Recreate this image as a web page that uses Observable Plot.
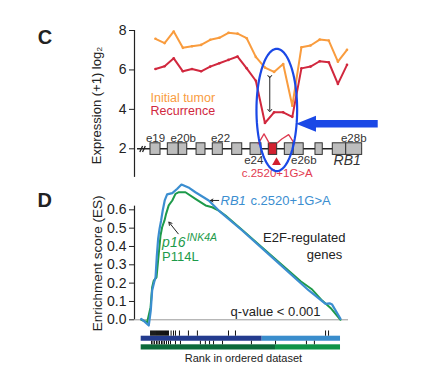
<!DOCTYPE html>
<html><head><meta charset="utf-8">
<script src="https://cdn.jsdelivr.net/npm/d3@7"></script>
<script src="https://cdn.jsdelivr.net/npm/@observablehq/plot@0.6"></script>
<style>
html,body{margin:0;padding:0;background:#fff;}
#fig{position:relative;width:442px;height:379px;overflow:hidden;}
#fig svg{position:absolute;left:0;}
</style></head><body><div id="fig"></div>
<script>
const FONT = '"Liberation Sans", Arial, Helvetica, sans-serif';

// ---------- Panel C data ----------
const probeIndex   = [0,1,2,3,4,5,6,7,8,9,10,11,12,13,14,15,16,17,18,19,20,21];
const initialTumor = [7.58,7.36,7.95,7.12,7.20,7.27,7.53,7.63,7.88,7.84,7.61,6.66,6.12,5.90,6.30,4.18,7.15,7.24,7.54,7.49,6.42,7.02];
const recurrence   = [6.05,6.19,6.59,5.93,6.05,5.93,6.17,6.34,6.51,6.68,6.08,5.45,3.31,3.85,3.85,3.62,6.08,6.17,6.44,6.39,5.29,6.26];
const exonStart  = [-0.55,1.35,2.55,4.50,6.28,8.41,10.42,12.42,14.18,15.15,17.54,19.44,20.91];
const exonEnd    = [ 0.55,2.55,3.48,5.48,7.38,9.51,11.62,13.34,15.15,16.25,18.34,20.91,22.66];
const exonMutant = [false,false,false,false,false,false,false,true,false,false,false,false,false];
const exonLabels    = ["e19","e20b","e22","e28b","e24","e26b"];
const exonLabelPos  = [0,3.04,7.13,21.74,10.78,16.26];
const exonLabelY    = [2.51,2.51,2.51,2.51,1.41,1.41];
const mutationLabel = "c.2520+1G>A";
const mutationPos   = 13.27;
const seriesNames   = ["Initial tumor","Recurrence"];

// ---------- Panel D data ----------
const rbRank  = [0,0.017,0.038,0.048,0.055,0.065,0.072,0.078,0.085,0.092,0.100,0.108,0.118,0.130,0.156,0.181,0.202,0.237,0.272,0.339,0.389,0.507,0.674,0.841,0.925,0.945,0.958,1.0];
const rbES    = [0.005,-0.01,-0.031,0.05,0.16,0.205,0.232,0.342,0.442,0.496,0.542,0.596,0.651,0.684,0.691,0.715,0.738,0.722,0.696,0.651,0.596,0.487,0.324,0.160,0.087,0.09,0.083,0.005];
const p16Rank = [0,0.030,0.047,0.055,0.063,0.077,0.088,0.097,0.105,0.117,0.125,0.138,0.156,0.172,0.189,0.222,0.272,0.323,0.356,0.389,0.423,0.507,0.674,0.800,0.858,0.908,0.950,1.0];
const p16ES   = [0,-0.013,0.069,0.178,0.214,0.232,0.36,0.46,0.505,0.542,0.578,0.624,0.651,0.687,0.696,0.696,0.66,0.624,0.614,0.596,0.569,0.49,0.33,0.21,0.165,0.105,0.065,0.0];
const rbHits  = [0.047,0.052,0.057,0.062,0.067,0.072,0.077,0.082,0.087,0.092,0.097,0.102,0.107,0.112,0.117,0.122,0.127,0.132,0.137,0.150,0.162,0.172,0.192,0.237,0.282,0.438,0.473,0.925,0.940];
const p16Hits = [0.052,0.059,0.067,0.077,0.084,0.092,0.102,0.109,0.117,0.127,0.137,0.147,0.172,0.197,0.297,0.322,0.343,0.363,0.408,0.553,0.674,0.829,0.869];
const rbSplit  = 0.607;
const p16Split = 0.674;
const yTicksD  = [0,0.1,0.2,0.3,0.4,0.5,0.6];

// ---------- colours ----------
const ORANGE = "#f99c3e", RED = "#d1283e", BLUE = "#1a48e6";
const CBLUE = "#3b8ed0", CGREEN = "#1d9a4a";

const fig = document.getElementById("fig");

// ---------- Panel C ----------
const tumorPts = probeIndex.map((p,i)=>({x:p, y:initialTumor[i]}));
const recPts   = probeIndex.map((p,i)=>({x:p, y:recurrence[i]}));
const exons = exonStart.map((s,i)=>({x1:s, x2:exonEnd[i], y1:1.69, y2:2.28, mut:exonMutant[i]}));
const gLabels = exonLabels.map((t,i)=>({t, x:exonLabelPos[i], y:exonLabelY[i]}));
// ellipse annotation shape
const ell = d3.range(0,361,4).map(a=>({x:13.30+2.23*Math.cos(a*Math.PI/180), y:3.97+3.10*Math.sin(a*Math.PI/180)}));
const bigArrow = [
  {x:15.46,y1:3.243,y2:3.243},
  {x:17.65,y1:3.243-0.406,y2:3.243+0.406},
  {x:17.65,y1:3.243-0.193,y2:3.243+0.193},
  {x:24.42,y1:3.243-0.193,y2:3.243+0.193}
];
const splice = [
  {g:1,x:11.26,y:2.25},{g:1,x:11.90,y:2.76},{g:1,x:12.45,y:2.30},
  {g:2,x:13.34,y:2.30},{g:2,x:13.85,y:2.50},{g:2,x:14.60,y:2.72},{g:2,x:15.25,y:2.25}
];
const brk = [{x1:-1.72,y1:1.84,x2:-1.42,y2:2.14},{x1:-1.42,y1:1.84,x2:-1.12,y2:2.14}];

const plotC = Plot.plot({
  width: 442, height: 182,
  marginLeft: 134, marginRight: 4, marginTop: 30, marginBottom: 5.1,
  style: {fontFamily: FONT, fontSize: "14px", color: "#222", background: "transparent", overflow: "visible"},
  x: {domain: [-2.303, 31.030], axis: null},
  y: {domain: [0.55, 8], ticks: [2,4,6,8], tickSize: 5, tickPadding: 3, label: null},
  marks: [
    Plot.ruleX([-2.303], {stroke: "#222", strokeWidth: 1.2}),
    // gene model
    Plot.ruleY([{y:2, x1:-1.97, x2:22.66}], {y:"y", x1:"x1", x2:"x2", stroke:"#222", strokeWidth:1.6}),
    Plot.link(brk, {x1:"x1", y1:"y1", x2:"x2", y2:"y2", stroke:"#222", strokeWidth:1.3}),
    Plot.rect(exons, {x1:"x1", x2:"x2", y1:"y1", y2:"y2", fill: d=>d.mut?"#d3202f":"#bdbdbd", stroke:"#333", strokeWidth:1}),
    Plot.line(splice, {x:"x", y:"y", z:"g", stroke:"#dd3a50", strokeWidth:1.3}),
    Plot.text(gLabels, {x:"x", y:"y", text:"t", fontSize:11.5, fill:"#333"}),
    Plot.text(["RB1"], {x:[21.02], y:[1.41], fontSize:14, fontStyle:"italic", fill:"#333"}),
    Plot.dot([{x:mutationPos, y:1.31}], {x:"x", y:"y", symbol:"triangle", r:3.3, fill:"#d3202f", stroke:null}),
    Plot.text([mutationLabel], {x:[mutationPos+0.08], y:[0.75], fontSize:11.5, fill:"#e23a4f"}),
    // expression lines
    Plot.line(tumorPts, {x:"x", y:"y", stroke: ORANGE, strokeWidth: 2}),
    Plot.dot(tumorPts, {x:"x", y:"y", r:1.3, fill: ORANGE}),
    Plot.line(recPts, {x:"x", y:"y", stroke: RED, strokeWidth: 2}),
    Plot.dot(recPts, {x:"x", y:"y", r:1.3, fill: RED}),
    // legend text
    Plot.text([seriesNames[0]], {x:[-0.55], y:[4.60], textAnchor:"start", fontSize:12.5, fill: ORANGE}),
    Plot.text([seriesNames[1]], {x:[-0.55], y:[3.94], textAnchor:"start", fontSize:12.5, fill: RED}),
    // annotations
    Plot.link([{x:12.53, y1:5.667, y2:3.943}], {x1:"x", x2:"x", y1:"y1", y2:"y2", stroke:"#222", strokeWidth:1, markerStart:"arrow", markerEnd:"arrow"}),
    Plot.line(ell, {x:"x", y:"y", stroke: BLUE, strokeWidth: 2.2}),
    Plot.areaY(bigArrow, {x:"x", y1:"y1", y2:"y2", fill: BLUE, curve:"linear"}),
    // titles
    Plot.text(["Expression (+1) log\u2082"], {frameAnchor:"left", textAnchor:"middle", lineAnchor:"middle", rotate:-90, dx:-38, dy:1.5, fontSize:13, fill:"#222"}),
    Plot.text(["C"], {frameAnchor:"top-left", textAnchor:"middle", lineAnchor:"middle", dx:-89.5, dy:7, fontSize:20, fontWeight:"bold", fill:"#222"})
  ]
});
plotC.style.top = "0px";
fig.appendChild(plotC);

// ---------- Panel D ----------
const rbPts  = rbRank.map((r,i)=>({x:r, y:rbES[i]}));
const p16Pts = p16Rank.map((r,i)=>({x:r, y:p16ES[i]}));
const bars = [
  {x1:0, x2:rbSplit, y1:-0.0895, y2:-0.117, c:"#233b8e"},
  {x1:rbSplit, x2:1, y1:-0.0895, y2:-0.117, c:"#3a8dcc"},
  {x1:0, x2:p16Split, y1:-0.1364, y2:-0.1648, c:"#0c6a3a"},
  {x1:p16Split, x2:1, y1:-0.1364, y2:-0.1648, c:"#0f9447"}
];
const rbHitRows  = rbHits.map(h=>({x:h, y1:-0.061, y2:-0.0895}));
const p16HitRows = p16Hits.map(h=>({x:h, y1:-0.117, y2:-0.1364}));

const plotD = Plot.plot({
  width: 442, height: 199,
  marginLeft: 134, marginRight: 94, marginTop: 25.65, marginBottom: 59.7,
  style: {fontFamily: FONT, fontSize: "14px", color: "#222", background: "transparent", overflow: "visible"},
  x: {domain: [-0.0336, 1.0401], axis: null},
  y: {domain: [0, 0.62], ticks: yTicksD, tickFormat: ".1f", tickSize: 5, tickPadding: 3, label: null},
  marks: [
    Plot.ruleY([0], {stroke: "#999", strokeWidth: 1}),
    Plot.ruleX([-0.0336], {stroke: "#222", strokeWidth: 1.2}),
    Plot.line(p16Pts, {x:"x", y:"y", stroke: CGREEN, strokeWidth: 2}),
    Plot.line(rbPts, {x:"x", y:"y", stroke: CBLUE, strokeWidth: 2.2}),
    // rank strip
    Plot.rect(bars, {x1:"x1", x2:"x2", y1:"y1", y2:"y2", fill:"c"}),
    Plot.ruleX(rbHitRows, {x:"x", y1:"y1", y2:"y2", stroke:"#111", strokeWidth:1}),
    Plot.ruleX(p16HitRows, {x:"x", y1:"y1", y2:"y2", stroke:"#111", strokeWidth:1}),
    Plot.text(["Rank in ordered dataset"], {x:[0.513], y:[-0.211], fontSize:11, fill:"#222"}),
    // annotations
    Plot.arrow([{x1:0.389, x2:0.348, y:0.651}], {x1:"x1", x2:"x2", y1:"y", y2:"y", stroke:"#222", strokeWidth:1, headLength:5}),
    Plot.text(["RB1"], {x:[0.398], y:[0.647], textAnchor:"start", fontSize:13, fontStyle:"italic", fill: CBLUE}),
    Plot.text(["c.2520+1G>A"], {x:[0.548], y:[0.647], textAnchor:"start", fontSize:13, fill: CBLUE}),
    Plot.arrow([{x1:0.186, y1:0.469, x2:0.139, y2:0.533}], {x1:"x1", x2:"x2", y1:"y1", y2:"y2", stroke:"#222", strokeWidth:1, headLength:5}),
    Plot.text(["p16"], {x:[0.105], y:[0.423], textAnchor:"start", fontSize:14, fontStyle:"italic", fill: CGREEN}),
    Plot.text(["INK4A"], {x:[0.228], y:[0.449], textAnchor:"start", fontSize:10.5, fontStyle:"italic", fill: CGREEN}),
    Plot.text(["P114L"], {x:[0.105], y:[0.342], textAnchor:"start", fontSize:13, fill: CGREEN}),
    Plot.text(["E2F-regulated"], {x:[1.025], y:[0.447], textAnchor:"end", fontSize:13, fill:"#222"}),
    Plot.text(["genes"], {x:[1.0085], y:[0.356], textAnchor:"end", fontSize:13, fill:"#222"}),
    Plot.text(["q-value < 0.001"], {x:[0.900], y:[0.0415], textAnchor:"end", fontSize:13, fill:"#222"}),
    Plot.text(["Enrichment score (ES)"], {frameAnchor:"left", textAnchor:"middle", lineAnchor:"middle", rotate:-90, dx:-37, dy:0.5, fontSize:13.5, fill:"#222"}),
    Plot.text(["D"], {frameAnchor:"top-left", textAnchor:"middle", lineAnchor:"middle", dx:-89.8, dy:-5.95, fontSize:20, fontWeight:"bold", fill:"#222"})
  ]
});
plotD.style.top = "180px";
fig.appendChild(plotD);
</script></body></html>
